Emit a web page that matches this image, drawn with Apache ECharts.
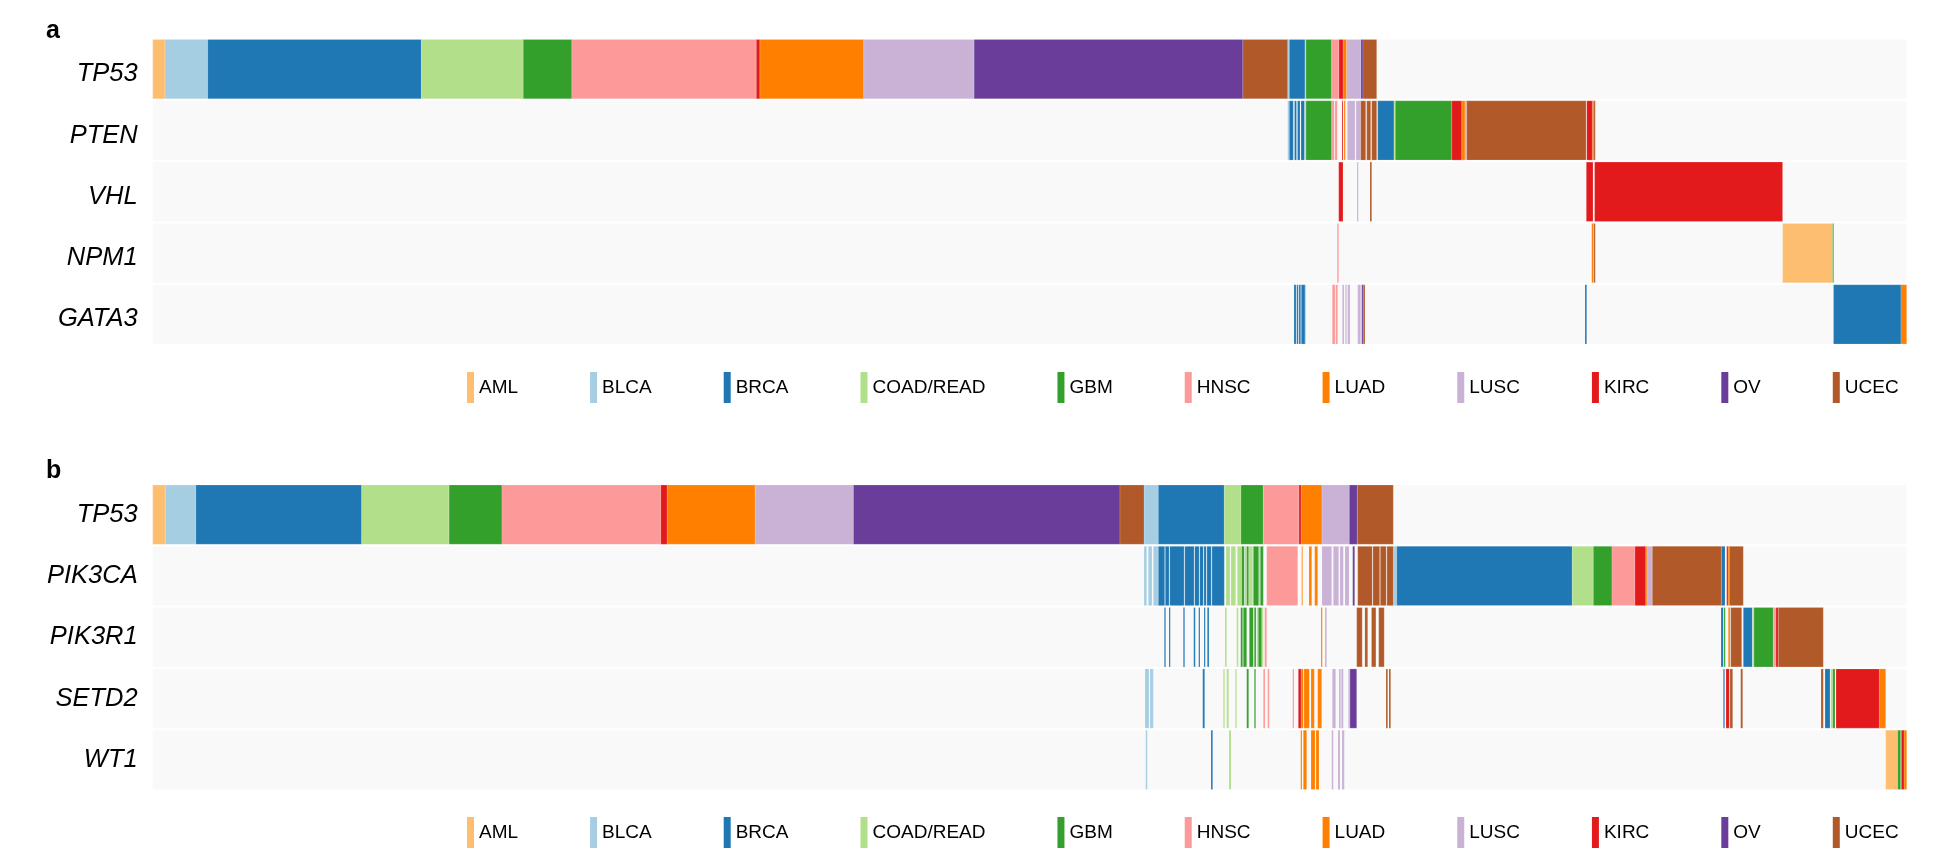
<!DOCTYPE html>
<html>
<head>
<meta charset="utf-8">
<style>html,body{margin:0;padding:0;background:#fff}#chart{width:1960px;height:862px}</style>
<script src="https://cdn.jsdelivr.net/npm/echarts@6/dist/echarts.min.js"></script>
</head>
<body>
<div id="chart"></div>
<script>
// ---- categories ----
const cancerTypes = ['AML','BLCA','BRCA','COAD/READ','GBM','HNSC','LUAD','LUSC','KIRC','OV','UCEC'];
const genesA = ['TP53','PTEN','VHL','NPM1','GATA3'];
const genesB = ['TP53','PIK3CA','PIK3R1','SETD2','WT1'];
const sampleCount = 1754;

// ---- segments: [startSample, endSample, cancerType] ----
const a_TP53 = [[0,12.3,'AML'],[12.3,55,'BLCA'],[55,268.7,'BRCA'],[268.7,370.5,'COAD/READ'],[370.5,419.2,'GBM'],[419.2,603.6,'HNSC'],[603.6,607.1,'KIRC'],[607.1,711.1,'LUAD'],[711.1,821.4,'LUSC'],[821.4,1090.2,'OV'],[1090.2,1135,'UCEC'],[1135,1136.6,'BLCA'],[1136.6,1152.3,'BRCA'],[1152.3,1153.3,'COAD/READ'],[1153.3,1179,'GBM'],[1179,1186.3,'HNSC'],[1186.3,1190.3,'KIRC'],[1190.3,1194,'LUAD'],[1194,1208.3,'LUSC'],[1208.3,1210.3,'OV'],[1210.3,1224,'UCEC']];
const a_PTEN = [[1135,1136.6,'BLCA'],[1136.6,1140.6,'BRCA'],[1141.8,1143.8,'BRCA'],[1144.8,1147.3,'BRCA'],[1148.3,1151.8,'BRCA'],[1152.3,1153.3,'COAD/READ'],[1153.3,1179,'GBM'],[1179.3,1181.6,'HNSC'],[1182.3,1184.6,'HNSC'],[1189.3,1190.3,'KIRC'],[1191.3,1192.6,'LUAD'],[1194.6,1202.3,'LUSC'],[1203.3,1208,'LUSC'],[1208,1213,'UCEC'],[1214,1218,'UCEC'],[1219,1224,'UCEC'],[1225,1241.3,'BRCA'],[1241.3,1242.6,'COAD/READ'],[1242.6,1299,'GBM'],[1299,1309,'KIRC'],[1309,1312.3,'LUAD'],[1312.3,1314,'LUSC'],[1314,1433.3,'UCEC'],[1434,1439.6,'KIRC'],[1439.6,1441.3,'LUAD'],[1441.3,1442.6,'UCEC']];
const a_VHL = [[1186,1190.3,'KIRC'],[1204.3,1205.6,'LUSC'],[1217.3,1219,'UCEC'],[1433.6,1440.3,'KIRC'],[1441.9,1629.9,'KIRC']];
const a_NPM1 = [[1184.5,1186,'HNSC'],[1439,1441,'LUAD'],[1441.3,1442.6,'UCEC'],[1629.9,1679.9,'AML'],[1679.9,1681,'GBM']];
const a_GATA3 = [[1141.3,1143.3,'BRCA'],[1144,1145.6,'BRCA'],[1146.3,1148,'BRCA'],[1148.6,1152.3,'BRCA'],[1152.3,1153.3,'COAD/READ'],[1179.6,1182.3,'HNSC'],[1183,1185,'HNSC'],[1189.6,1191.3,'LUSC'],[1192.6,1194,'LUSC'],[1195,1197.3,'LUSC'],[1205,1208,'LUSC'],[1209,1210.6,'OV'],[1210.6,1212.3,'UCEC'],[1432.3,1434,'BRCA'],[1680.8,1748.3,'BRCA'],[1748.3,1754,'LUAD']];

const b_TP53 = [[0,12.6,'AML'],[12.6,43.2,'BLCA'],[43.2,209,'BRCA'],[209,296.4,'COAD/READ'],[296.4,349.3,'GBM'],[349.3,508.1,'HNSC'],[508.1,514.5,'KIRC'],[514.5,602.5,'LUAD'],[602.5,700.7,'LUSC'],[700.7,967.3,'OV'],[967.3,991.3,'UCEC'],[991.3,1005.6,'BLCA'],[1005.6,1071.6,'BRCA'],[1071.6,1088.3,'COAD/READ'],[1088.3,1110.6,'GBM'],[1110.6,1146.3,'HNSC'],[1146.3,1148.3,'KIRC'],[1148.3,1169.3,'LUAD'],[1169.3,1196.6,'LUSC'],[1196.6,1204.6,'OV'],[1204.6,1240.6,'UCEC']];
const b_PIK3CA = [[991.3,994,'BLCA'],[995.6,999.3,'BLCA'],[1000.6,1005.6,'BLCA'],[1005.6,1012,'BRCA'],[1012.6,1016.3,'BRCA'],[1017,1031.3,'BRCA'],[1032,1041.3,'BRCA'],[1042,1046.3,'BRCA'],[1047,1050.6,'BRCA'],[1051.3,1053.6,'BRCA'],[1054.3,1058.6,'BRCA'],[1059.3,1071.6,'BRCA'],[1073.3,1077.3,'COAD/READ'],[1078.3,1083,'COAD/READ'],[1084.6,1089,'COAD/READ'],[1089,1091.6,'GBM'],[1092.3,1094,'COAD/READ'],[1094,1096,'GBM'],[1096.3,1100,'COAD/READ'],[1100.6,1106,'GBM'],[1106,1107.3,'COAD/READ'],[1107.6,1110.6,'GBM'],[1114,1145,'HNSC'],[1149,1150,'LUAD'],[1156.3,1159,'LUAD'],[1162,1165,'LUAD'],[1169.3,1179,'LUSC'],[1180.6,1186,'LUSC'],[1187.3,1190.6,'LUSC'],[1192.3,1196.3,'LUSC'],[1200,1202,'OV'],[1205,1219.6,'UCEC'],[1220.3,1227,'UCEC'],[1227.6,1233.6,'UCEC'],[1234.3,1240.6,'UCEC'],[1240.6,1244,'BLCA'],[1244,1419.6,'BRCA'],[1419.6,1440.6,'COAD/READ'],[1440.6,1459.3,'GBM'],[1459.3,1482.3,'HNSC'],[1482.3,1493,'KIRC'],[1493,1494.3,'LUAD'],[1494.3,1499.6,'LUSC'],[1499.6,1568.6,'UCEC'],[1568.6,1572.3,'BRCA'],[1574,1575.3,'KIRC'],[1575.3,1576.6,'LUAD'],[1576.6,1590.6,'UCEC']];
const b_PIK3R1 = [[1011.6,1013,'BRCA'],[1016.3,1017.6,'BRCA'],[1030.6,1032,'BRCA'],[1041,1042.6,'BRCA'],[1046,1047.3,'BRCA'],[1051.3,1052.6,'BRCA'],[1054.6,1056.3,'BRCA'],[1072.3,1074,'COAD/READ'],[1084,1085.6,'COAD/READ'],[1088,1090,'GBM'],[1090.6,1094,'GBM'],[1096.6,1100.6,'GBM'],[1101.6,1103.3,'GBM'],[1104,1105.6,'COAD/READ'],[1105.6,1109,'GBM'],[1109.3,1110.6,'COAD/READ'],[1112,1114,'HNSC'],[1168.3,1169.6,'LUAD'],[1172.3,1174,'LUSC'],[1204,1209.5,'UCEC'],[1212.2,1215,'UCEC'],[1218.8,1223.2,'UCEC'],[1226,1231.5,'UCEC'],[1568.3,1570.6,'BRCA'],[1571.3,1572.6,'GBM'],[1575.6,1577.3,'LUAD'],[1578,1589,'UCEC'],[1590.6,1599.6,'BRCA'],[1600,1601.3,'COAD/READ'],[1601.3,1620.6,'GBM'],[1620.6,1623.3,'HNSC'],[1623.3,1625.6,'KIRC'],[1625.6,1670.6,'UCEC']];
const b_SETD2 = [[992.3,996.3,'BLCA'],[997.3,1000.6,'BLCA'],[1050,1052,'BRCA'],[1070.6,1072,'COAD/READ'],[1074,1076,'COAD/READ'],[1082.6,1084,'COAD/READ'],[1094,1096,'GBM'],[1101.6,1103,'GBM'],[1110.6,1112.3,'HNSC'],[1115,1116.6,'HNSC'],[1140,1141.3,'HNSC'],[1145.6,1148.3,'KIRC'],[1148.3,1150.6,'LUAD'],[1151.3,1156.6,'LUAD'],[1158.3,1161.6,'LUAD'],[1165,1169,'LUAD'],[1179.6,1183,'LUSC'],[1186.3,1188,'LUSC'],[1188.6,1190.6,'LUSC'],[1195.6,1197.3,'LUSC'],[1197.3,1204,'OV'],[1233.3,1235,'UCEC'],[1236.3,1238,'UCEC'],[1570.6,1572,'BRCA'],[1573.3,1576.6,'KIRC'],[1577.3,1580,'UCEC'],[1588,1590,'UCEC'],[1668.3,1670.6,'UCEC'],[1672.3,1677.3,'BRCA'],[1678,1680,'COAD/READ'],[1680,1682.3,'GBM'],[1683.3,1726.6,'KIRC'],[1726.6,1733,'LUAD']];
const b_WT1 = [[993,994.6,'BLCA'],[1058.3,1060,'BRCA'],[1076.3,1078.3,'COAD/READ'],[1148,1149.3,'LUAD'],[1150.6,1154,'LUAD'],[1158.3,1162.3,'LUAD'],[1163.3,1166.3,'LUAD'],[1179,1180.6,'LUSC'],[1185.3,1187.3,'LUSC'],[1189.3,1191.6,'LUSC'],[1733,1745,'AML'],[1745,1748,'GBM'],[1748.6,1751.3,'KIRC'],[1751.3,1754,'LUAD']];

const rowsA = [a_TP53, a_PTEN, a_VHL, a_NPM1, a_GATA3];
const rowsB = [b_TP53, b_PIK3CA, b_PIK3R1, b_SETD2, b_WT1];

// ---- style ----
const palette = {
  'AML':'#fdbf6f','BLCA':'#a6cee3','BRCA':'#1f78b4','COAD/READ':'#b2df8a','GBM':'#33a02c',
  'HNSC':'#fb9a99','LUAD':'#ff7f00','LUSC':'#cab2d6','KIRC':'#e31a1c','OV':'#6a3d9a','UCEC':'#b15928'
};
const FONT = '"Liberation Sans", Arial, Helvetica, sans-serif';

function renderSeg(params, api) {
  const s = api.coord([api.value(0), api.value(2)]);
  const e = api.coord([api.value(1), api.value(2)]);
  const h = api.size([0, 1])[1] - 2;
  return {
    type: 'rect',
    shape: { x: s[0], y: s[1] - h / 2, width: Math.max(e[0] - s[0], 0.9), height: h },
    style: { fill: api.visual('color'), stroke: 'rgba(255,255,255,0.45)', lineWidth: 0.4 }
  };
}
function renderBg(params, api) {
  const s = api.coord([api.value(0), api.value(2)]);
  const e = api.coord([api.value(1), api.value(2)]);
  const h = api.size([0, 1])[1] - 2;
  return { type: 'rect', shape: { x: s[0], y: s[1] - h / 2, width: e[0] - s[0], height: h }, style: { fill: '#f9f9f9' } };
}

const series = [];
[rowsA, rowsB].forEach((rows, p) => {
  series.push({
    type: 'custom', name: 'bg' + p, xAxisIndex: p, yAxisIndex: p, silent: true,
    renderItem: renderBg, encode: { x: [0, 1], y: 2 },
    data: rows.map((r, i) => [0, sampleCount, i]), z: 1
  });
  cancerTypes.forEach(t => {
    const data = [];
    rows.forEach((segs, i) => segs.forEach(sg => { if (sg[2] === t) data.push([sg[0], sg[1], i]); }));
    series.push({
      type: 'custom', name: t, xAxisIndex: p, yAxisIndex: p,
      renderItem: renderSeg, encode: { x: [0, 1], y: 2 },
      itemStyle: { color: palette[t] }, data: data, z: 2
    });
  });
});

const legendBase = {
  data: cancerTypes, orient: 'horizontal', left: 467, padding: 0,
  icon: 'rect', itemWidth: 7, itemHeight: 31, itemGap: 72,
  textStyle: { fontSize: 19, color: '#000', fontFamily: FONT }
};

const yAxisBase = (genes, extra) => ({
  type: 'category', data: genes, inverse: true,
  axisLine: { show: false }, axisTick: { show: false }, splitLine: { show: false },
  axisLabel: Object.assign({ fontStyle: 'italic', fontSize: 25.5, color: '#000', margin: 15, fontFamily: FONT }, extra)
});

const option = {
  animation: false,
  textStyle: { fontFamily: FONT },
  title: [
    { text: 'a', left: 46, top: 19, padding: 0, textStyle: { fontSize: 25, fontWeight: 'bold', color: '#000', fontFamily: FONT } },
    { text: 'b', left: 46, top: 459, padding: 0, textStyle: { fontSize: 25, fontWeight: 'bold', color: '#000', fontFamily: FONT } }
  ],
  legend: [
    Object.assign({}, legendBase, { top: 372 }),
    Object.assign({}, legendBase, { top: 817 })
  ],
  grid: [
    { left: 152.7, right: 53.3, top: 38.5, height: 306.5 },
    { left: 152.7, right: 53.3, top: 484, height: 306.5 }
  ],
  xAxis: [
    { type: 'value', gridIndex: 0, min: 0, max: sampleCount, show: false },
    { type: 'value', gridIndex: 1, min: 0, max: sampleCount, show: false }
  ],
  yAxis: [
    Object.assign(yAxisBase(genesA, { verticalAlign: 'top', lineHeight: 10 }), { gridIndex: 0 }),
    Object.assign(yAxisBase(genesB, {}), { gridIndex: 1 })
  ],
  series: series
};

const chart = echarts.init(document.getElementById('chart'), null, { renderer: 'canvas', width: 1960, height: 862 });
chart.setOption(option);
</script>
</body>
</html>
